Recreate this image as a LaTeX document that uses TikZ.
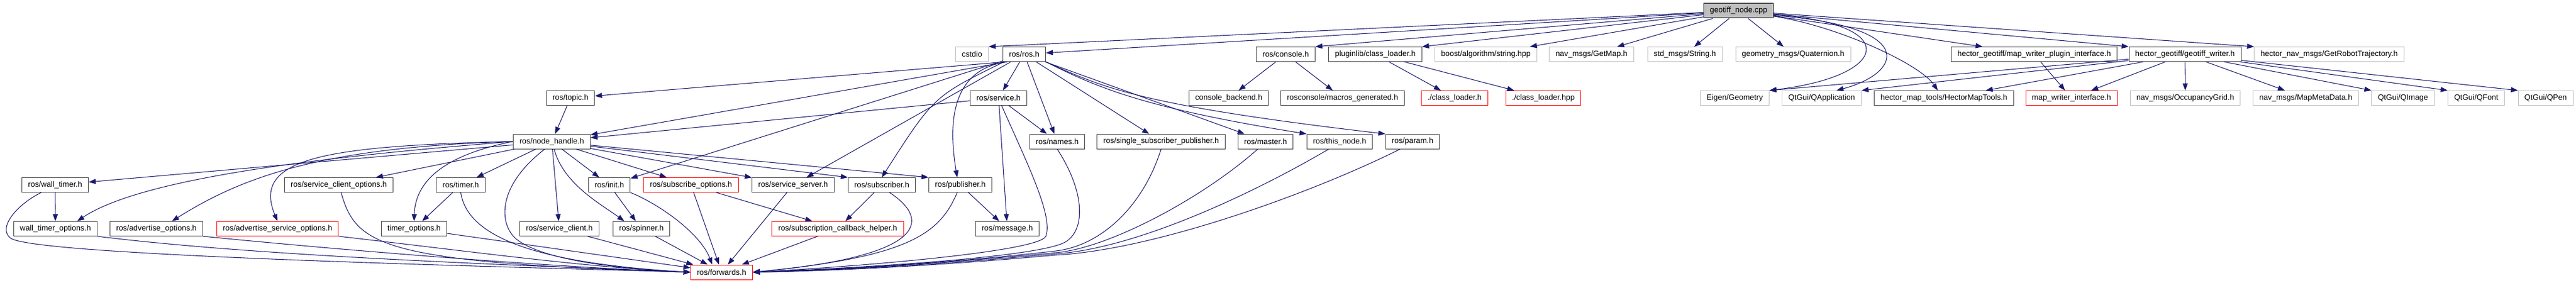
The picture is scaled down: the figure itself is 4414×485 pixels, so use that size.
\documentclass[tikz,border=0pt]{standalone}
\usepackage{fontspec}
\setmainfont{Liberation Sans}
\usetikzlibrary{arrows.meta}

\definecolor{edgeblue}{HTML}{191970}
\definecolor{extgrey}{HTML}{BFBFBF}
\definecolor{boxline}{HTML}{404040}

\tikzset{
  hfile/.style={draw=boxline,line width=0.75pt,fill=white,minimum height=18.75pt,
                inner xsep=8pt,inner ysep=0pt,font=\fontsize{10}{12}\selectfont},
  hcut/.style={hfile,draw=red},%graph truncated below this file
  hext/.style={hfile,draw=extgrey},%file outside the docs
  hroot/.style={hfile,draw=black,fill=extgrey},
  inc/.style={draw=edgeblue,line width=0.8pt,-{Triangle[length=9pt,width=6.5pt]}},
}

\begin{document}
\begin{tikzpicture}[x=0.75pt,y=-0.75pt]%one unit = one pixel of the graph
\fill[white] (0,0) rectangle (4414,485);
\useasboundingbox (0,0) rectangle (4414,485);

% row 0
\node[hroot] (root) at (2979,18.5) {geotiff\_node.cpp};
% row 1
\node[hext]  (cstdio)    at (1665.5,93) {cstdio};
\node[hfile] (rosh)      at (1755,93)   {ros/ros.h};
\node[hfile] (console)   at (2203,93)   {ros/console.h};
\node[hfile] (pluginlib) at (2356.5,93) {pluginlib/class\_loader.h};
\node[hext]  (boost)     at (2546,93)   {boost/algorithm/string.hpp};
\node[hext]  (getmap)    at (2727,93)   {nav\_msgs/GetMap.h};
\node[hext]  (stdstring) at (2887,93)   {std\_msgs/String.h};
\node[hext]  (quat)      at (3072.5,93) {geometry\_msgs/Quaternion.h};
\node[hfile] (mwpi)      at (3485.5,93) {hector\_geotiff/map\_writer\_plugin\_interface.h};
\node[hfile] (gtw)       at (3744,93)   {hector\_geotiff/geotiff\_writer.h};
\node[hext]  (grt)       at (3991,93)   {hector\_nav\_msgs/GetRobotTrajectory.h};
% row 2
\node[hfile] (topic)   at (977.5,168)  {ros/topic.h};
\node[hfile] (service) at (1711,168)   {ros/service.h};
\node[hfile] (backend) at (2105.5,168) {console\_backend.h};
\node[hfile] (macros)  at (2300.5,168) {rosconsole/macros\_generated.h};
\node[hcut]  (clh)     at (2492.5,168) {./class\_loader.h};
\node[hcut]  (clhpp)   at (2644.5,168) {./class\_loader.hpp};
\node[hext]  (eigen)   at (2972.5,168) {Eigen/Geometry};
\node[hext]  (qapp)    at (3121.5,168) {QtGui/QApplication};
\node[hfile] (hmt)     at (3331,168)   {hector\_map\_tools/HectorMapTools.h};
\node[hcut]  (mwi)     at (3549.5,168) {map\_writer\_interface.h};
\node[hext]  (occ)     at (3744.5,168) {nav\_msgs/OccupancyGrid.h};
\node[hext]  (meta)    at (3951,168)   {nav\_msgs/MapMetaData.h};
\node[hext]  (qimage)  at (4117.5,168) {QtGui/QImage};
\node[hext]  (qfont)   at (4243,168)   {QtGui/QFont};
\node[hext]  (qpen)    at (4362,168)   {QtGui/QPen};
% row 3
\node[hfile] (nh)       at (945.5,242.5)  {ros/node\_handle.h};
\node[hfile] (names)    at (1811.5,242.5) {ros/names.h};
\node[hfile] (ssp)      at (1989.5,242.5) {ros/single\_subscriber\_publisher.h};
\node[hfile] (master)   at (2168.5,242.5) {ros/master.h};
\node[hfile] (thisnode) at (2295.5,242.5) {ros/this\_node.h};
\node[hfile] (param)    at (2420.5,242.5) {ros/param.h};
% row 4
\node[hfile] (walltimer)  at (94.5,317)   {ros/wall\_timer.h};
\node[hfile] (sco)        at (580.5,317)  {ros/service\_client\_options.h};
\node[hfile] (timer)      at (789.5,317)  {ros/timer.h};
\node[hfile] (init)       at (1044,317)   {ros/init.h};
\node[hcut]  (subopt)     at (1184,317)   {ros/subscribe\_options.h};
\node[hfile] (srvserver)  at (1359,317)   {ros/service\_server.h};
\node[hfile] (subscriber) at (1511,317)   {ros/subscriber.h};
\node[hfile] (publisher)  at (1645.5,317) {ros/publisher.h};
% row 5
\node[hfile] (wto)       at (95,392)     {wall\_timer\_options.h};
\node[hfile] (advopt)    at (268,392)    {ros/advertise\_options.h};
\node[hcut]  (advsrv)    at (475.5,392)  {ros/advertise\_service\_options.h};
\node[hfile] (timeropt)  at (709.5,392)  {timer\_options.h};
\node[hfile] (srvclient) at (958.5,392)  {ros/service\_client.h};
\node[hfile] (spinner)   at (1099,392)   {ros/spinner.h};
\node[hcut]  (sch)       at (1435.5,392) {ros/subscription\_callback\_helper.h};
\node[hfile] (message)   at (1726,392)   {ros/message.h};
% row 6
\node[hcut] (fwd) at (1236.5,466.5) {ros/forwards.h};

% straight includes
\foreach \a/\b in {root/cstdio.north east, root/rosh, root/console.north east,
    root/pluginlib.north east, root/boost, root/getmap, root/stdstring, root/quat,
    root/mwpi, root/gtw.north west, root/grt.north west,
    console/backend, console/macros, pluginlib/clh, pluginlib/clhpp, mwpi/mwi,
    gtw/eigen.north east, gtw/qapp.north east, gtw/hmt, gtw/mwi, gtw/occ, gtw/meta,
    gtw/qimage.north west, gtw/qfont.north west, gtw/qpen.north west,
    rosh/service, rosh/names, rosh/ssp, rosh/master, rosh/init, rosh/srvserver,
    topic/nh, service/nh, service/names, service/message,
    nh/walltimer, nh/sco, nh/timer, nh/srvclient, nh/init, nh/subopt, nh/srvserver,
    nh/subscriber.north west, nh/publisher.north west,
    walltimer/wto, timer/timeropt, init/spinner, subopt/sch, subscriber/sch,
    publisher/message, timeropt/fwd, srvclient/fwd, spinner/fwd, subopt/fwd,
    srvserver/fwd, sch/fwd}
  \draw[inc] (\a) -- (\b);

\draw[inc] ([xshift=4pt]rosh.south west) -- (topic);
\draw[inc] ([xshift=6pt]rosh.south west) -- (nh);

% curved includes
\draw[inc] ([xshift=-22pt]rosh.south) .. controls (1620,120) and (1628,230) .. ([xshift=-4pt]publisher.north);
\draw[inc] ([xshift=-26pt]rosh.south) .. controls (1600,165) .. (subscriber.north);
\draw[inc] (rosh.south east) .. controls (1880,150) and (1960,185) .. (thisnode.north west);
\draw[inc] (rosh.south east) .. controls (1890,150) and (1950,180) .. (param.north west);
\draw[inc] ([yshift=-5pt]root.east) .. controls (3260,40) and (3240,130) .. (eigen.north east);
\draw[inc] ([yshift=-6pt]root.east) .. controls (3290,45) and (3260,125) .. ([xshift=19pt]qapp.north);
\draw[inc] ([yshift=-7pt]root.east) .. controls (3150,45) and (3290,110) .. ([xshift=-8pt]hmt.north);

\draw[inc] (nh.west) .. controls (600,265) and (250,300) .. ([xshift=28pt]wto.north);
\draw[inc] (nh.west) .. controls (560,252) and (420,300) .. ([xshift=20pt]advopt.north);
\draw[inc] (nh.west) .. controls (560,250) and (430,270) .. (advsrv.north);
\draw[inc] (nh.west) .. controls (780,262) and (712,300) .. (timeropt.north);
\draw[inc] ([xshift=3pt]nh.south) .. controls (965,315) and (1030,350) .. ([xshift=-22pt]spinner.north);

% into ros/forwards.h from the left
\draw[inc] ([xshift=-18pt]walltimer.south) .. controls (30,350) and (-5,390) .. (18,408)
  .. controls (58,439) and (900,458) .. (fwd.west);
\draw[inc] (wto.south east) .. controls (450,440) and (900,455) .. (fwd.west);
\draw[inc] (advopt.south east) .. controls (600,430) and (950,458) .. (fwd.west);
\draw[inc] (advsrv.south east) .. controls (800,430) and (1000,458) .. (fwd.west);
\draw[inc] ([xshift=3pt]sco.south) .. controls (610,420) and (650,450) .. (fwd.west);
\draw[inc] (timer.south) .. controls (800,400) and (900,450) .. (fwd.west);
\draw[inc] ([xshift=-9pt]nh.south) .. controls (850,320) and (855,385) .. (885,410)
  .. controls (930,445) and (1050,460) .. (fwd.west);
\draw[inc] (init.south east) .. controls (1130,350) and (1200,400) .. ([xshift=-12pt]fwd.north);

% into ros/forwards.h from the right
\draw[inc] ([xshift=10pt]subscriber.south) .. controls (1600,380) and (1580,440) .. (fwd.east);
\draw[inc] ([xshift=-4pt]publisher.south) .. controls (1610,400) and (1560,440) .. (fwd.east);
\draw[inc] ([xshift=4pt]service.south) .. controls (1760,280) and (1805,370) .. (1792,405)
  .. controls (1780,430) and (1500,455) .. (fwd.east);
\draw[inc] (names.south) .. controls (1860,330) and (1860,395) .. (1825,415)
  .. controls (1780,440) and (1500,458) .. (fwd.east);
\draw[inc] (ssp.south) .. controls (1960,350) and (1890,420) .. (1810,430)
  .. controls (1700,443) and (1500,460) .. (fwd.east);
\draw[inc] ([xshift=-10pt]master.south) .. controls (2060,340) and (1900,425) .. (1810,433)
  .. controls (1700,443) and (1500,461) .. (fwd.east);
\draw[inc] ([xshift=-14pt]thisnode.south) .. controls (2150,330) and (1950,425) .. (1810,435)
  .. controls (1700,445) and (1500,462) .. (fwd.east);
\draw[inc] ([xshift=-16pt]param.south) .. controls (2250,330) and (1980,428) .. (1810,437)
  .. controls (1700,447) and (1500,463) .. (fwd.east);
\end{tikzpicture}
\end{document}
